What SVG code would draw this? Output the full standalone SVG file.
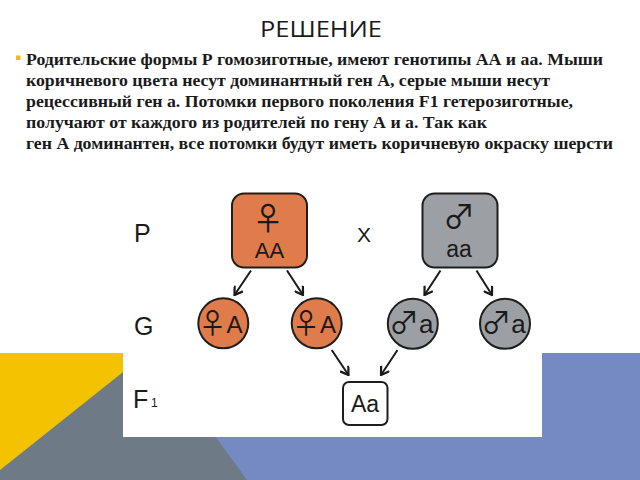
<svg xmlns="http://www.w3.org/2000/svg" width="640" height="480" viewBox="0 0 640 480">
  <style>
    .title { font-family: "Open Sans", "Liberation Sans", sans-serif; font-size: 22px; fill: #1a1a1a; }
    .body { font-family: "Liberation Serif", "Times New Roman", serif; font-weight: bold; font-size: 17px; fill: #1a1a1a; }
    .lbl { font-family: "Liberation Sans", Arial, sans-serif; font-size: 25px; fill: #1a1a1a; }
    .sym { font-family: "Noto Sans CJK JP", "DejaVu Sans", sans-serif; fill: #1a1a1a; }
    .gen { font-family: "Liberation Sans", Arial, sans-serif; fill: #1a1a1a; }
    .fem { fill: #E07C4B; stroke: #1e1e1e; stroke-width: 2; }
    .mal { fill: #9C9FA4; stroke: #1e1e1e; stroke-width: 2; }
    .off { fill: #ffffff; stroke: #1e1e1e; stroke-width: 2; }
    .arr { stroke: #1a1a1a; stroke-width: 2; fill: none; marker-end: url(#ah); }
  </style>
  <defs>
    <marker id="ah" viewBox="0 0 10 10" refX="9" refY="5" markerWidth="11" markerHeight="11" markerUnits="userSpaceOnUse" orient="auto">
      <path d="M2,0.5 L9,5 L2,9.5" fill="none" stroke="#1a1a1a" stroke-width="2"/>
    </marker>
  </defs>

  <!-- slide background -->
  <rect x="0" y="0" width="640" height="480" fill="#ffffff"/>
  <rect x="0" y="353" width="300" height="127" fill="#F3C300"/>
  <rect x="150" y="353" width="490" height="127" fill="#7589C3"/>
  <polygon points="-12.5,480 152,349 247,480" fill="#6E7B87"/>

  <!-- title and text -->
  <text class="title" x="260" y="36.7" textLength="122" lengthAdjust="spacingAndGlyphs">РЕШЕНИЕ</text>
  <rect x="16" y="55.5" width="4.5" height="4.5" fill="#F0C000"/>
  <text class="body" x="26" y="65" textLength="577" lengthAdjust="spacingAndGlyphs">Родительские формы Р гомозиготные, имеют генотипы АА и аа. Мыши</text>
  <text class="body" x="26" y="86" textLength="524" lengthAdjust="spacingAndGlyphs">коричневого цвета несут доминантный ген А, серые мыши несут</text>
  <text class="body" x="26" y="107" textLength="547" lengthAdjust="spacingAndGlyphs">рецессивный ген а. Потомки первого поколения F1 гетерозиготные,</text>
  <text class="body" x="26" y="128" textLength="461" lengthAdjust="spacingAndGlyphs">получают от каждого из родителей по гену А и а. Так как</text>
  <text class="body" x="26" y="149" textLength="587" lengthAdjust="spacingAndGlyphs">ген А доминантен, все потомки будут иметь коричневую окраску шерсти</text>

  <!-- picture panel -->
  <rect x="123" y="178" width="419" height="259" fill="#ffffff"/>

  <g id="labels">
    <text class="lbl" x="134" y="241.7">P</text>
    <text class="lbl" x="134" y="335">G</text>
    <text class="lbl" x="133" y="408">F</text>
    <text class="gen" x="151" y="407" font-size="12">1</text>
    <text class="gen" x="364" y="241.7" font-size="21" text-anchor="middle">X</text>
  </g>

  <g id="connectors">
    <line class="arr" x1="251" y1="270.5" x2="234.5" y2="295"/>
    <line class="arr" x1="287" y1="270.5" x2="303" y2="295"/>
    <line class="arr" x1="440.5" y1="270.5" x2="424.5" y2="295"/>
    <line class="arr" x1="476.5" y1="270.5" x2="492" y2="295"/>
    <line class="arr" x1="331.7" y1="350" x2="348.5" y2="375"/>
    <line class="arr" x1="397.5" y1="350" x2="381" y2="375"/>
  </g>

  <g id="parent-female">
    <rect class="fem" x="232" y="193.5" width="75" height="74" rx="12"/>
    <text class="sym" x="268" y="230" font-size="32" text-anchor="middle">♀</text>
    <text class="gen" x="269.5" y="258" font-size="22" text-anchor="middle">AA</text>
  </g>

  <g id="parent-male">
    <rect class="mal" x="422.5" y="193.5" width="75" height="74" rx="12"/>
    <text class="sym" x="459" y="228" font-size="32" text-anchor="middle">♂</text>
    <text class="gen" x="459" y="256.7" font-size="23" text-anchor="middle">aa</text>
  </g>

  <g id="gamete-f1">
    <circle class="fem" cx="223.3" cy="323.3" r="25"/>
    <text class="sym" x="212.5" y="334" font-size="28" text-anchor="middle">♀</text>
    <text class="gen" x="226.5" y="333.3" font-size="24">A</text>
  </g>
  <g id="gamete-f2">
    <circle class="fem" cx="316.7" cy="323.3" r="25"/>
    <text class="sym" x="306" y="334" font-size="28" text-anchor="middle">♀</text>
    <text class="gen" x="320" y="333.3" font-size="24">A</text>
  </g>
  <g id="gamete-m1">
    <circle class="mal" cx="412.8" cy="323.8" r="25"/>
    <text class="sym" x="404" y="333" font-size="30" text-anchor="middle">♂</text>
    <text class="gen" x="419" y="333" font-size="26">a</text>
  </g>
  <g id="gamete-m2">
    <circle class="mal" cx="505" cy="323.8" r="25"/>
    <text class="sym" x="496.2" y="333" font-size="30" text-anchor="middle">♂</text>
    <text class="gen" x="511.2" y="333" font-size="26">a</text>
  </g>

  <g id="offspring">
    <rect class="off" x="343" y="382" width="44.5" height="43" rx="6"/>
    <text class="gen" x="365" y="411.7" font-size="23" text-anchor="middle">Aa</text>
  </g>
</svg>
